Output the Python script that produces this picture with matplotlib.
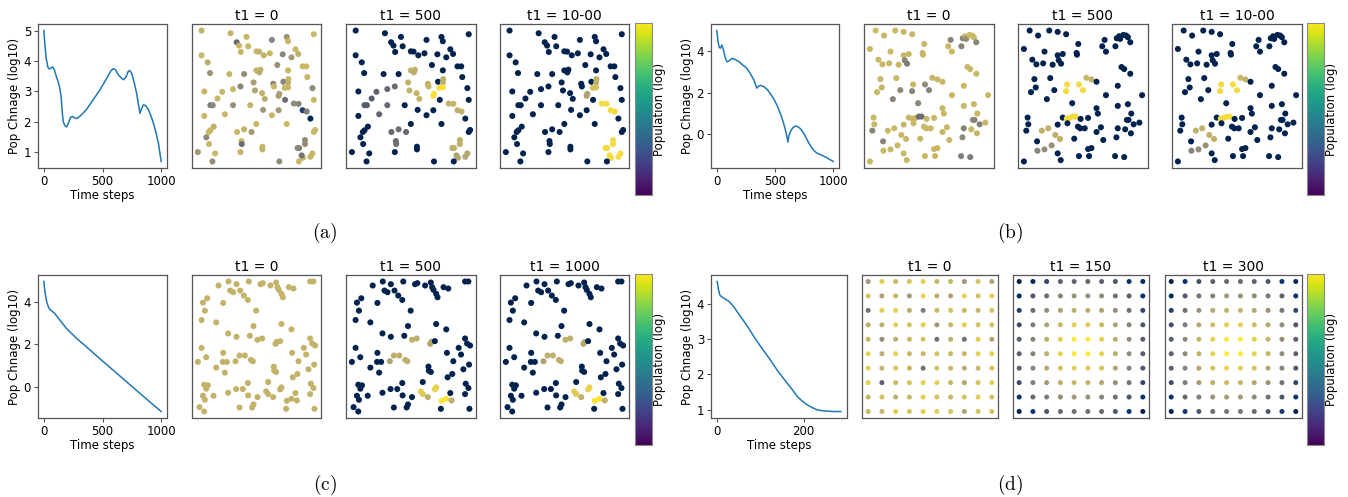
import matplotlib
matplotlib.use("Agg")
import matplotlib.pyplot as plt
from matplotlib.colors import Normalize
from matplotlib.cm import ScalarMappable

plt.rcParams['mathtext.fontset'] = 'cm'

# ---------------- line data (population change, log10) ----------------
a_t = [0, 8, 20, 35, 45, 60, 75, 90, 106, 120, 134, 148, 157, 165, 172, 182, 195, 210, 225, 240, 260, 283,
       320, 363, 420, 477, 530, 570, 591, 610, 634, 660, 680, 700, 718, 732, 750, 770, 791, 805, 820, 835,
       850, 870, 891, 912, 934, 955, 977, 1000]
a_v = [5.03, 4.6, 4.1, 3.8, 3.75, 3.78, 3.82, 3.72, 3.5, 3.35, 3.15, 2.8, 2.3, 2.0, 1.93, 1.85, 1.82, 1.95,
       2.12, 2.17, 2.13, 2.1, 2.22, 2.4, 2.72, 3.05, 3.4, 3.68, 3.76, 3.73, 3.56, 3.45, 3.39, 3.48, 3.66, 3.7,
       3.6, 3.3, 2.94, 2.6, 2.27, 2.45, 2.56, 2.52, 2.4, 2.2, 1.95, 1.65, 1.28, 0.67]

b_t = [0, 10, 20, 30, 43, 57, 70, 86, 100, 115, 134, 160, 191, 220, 249, 270, 291, 320, 343, 360, 377, 406,
       435, 463, 490, 520, 550, 577, 595, 611, 620, 634, 655, 677, 700, 720, 750, 777, 805, 834, 860, 891,
       920, 949, 975, 1000]
b_v = [5.0, 4.5, 4.2, 4.15, 4.3, 4.07, 3.75, 3.5, 3.52, 3.6, 3.66, 3.6, 3.5, 3.35, 3.23, 3.08, 2.9, 2.6,
       2.23, 2.33, 2.36, 2.29, 2.15, 1.94, 1.7, 1.37, 0.95, 0.48, 0.1, -0.37, -0.05, 0.15, 0.33, 0.41, 0.36,
       0.27, 0.03, -0.27, -0.55, -0.77, -0.9, -0.97, -1.05, -1.13, -1.22, -1.3]

c_t = [0, 5, 11, 25, 43, 60, 91, 134, 191, 240, 277, 350, 500, 650, 800, 1000]
c_v = [4.98, 4.7, 4.43, 4.0, 3.72, 3.62, 3.48, 3.17, 2.77, 2.5, 2.3, 1.95, 1.22, 0.5, -0.22, -1.17]

d_t = [0, 3, 6, 10, 15, 27, 38, 54, 70, 85, 100, 123, 140, 162, 175, 185, 197, 208, 220, 231, 243, 254, 270, 286]
d_v = [4.63, 4.4, 4.25, 4.2, 4.16, 4.07, 3.92, 3.64, 3.36, 3.07, 2.8, 2.41, 2.1, 1.75, 1.55, 1.38, 1.24,
       1.14, 1.06, 1.0, 0.97, 0.96, 0.95, 0.95]

# ---------------- scatter layouts (read positions, y measured downward) ----------------
a_x = [36, 122, 169, 288, 368, 244, 292, 140, 147, 174, 152, 198, 206, 220, 238, 276, 314, 322, 302, 36,
       54, 260, 335, 346, 61, 118, 162, 292, 198, 210, 207, 349, 190, 248, 250, 278, 293, 292, 194, 215,
       223, 282, 292, 266, 264, 44, 97, 129, 151, 83, 62, 69, 129, 105, 44, 180, 283, 309, 323, 335,
       347, 358, 364, 368, 218, 244, 264, 198, 288, 72, 62, 57, 50, 141, 162, 184, 154, 155, 58, 25,
       76, 68, 151, 216, 216, 266, 372, 368, 342, 342, 320, 325, 364, 358, 336, 332, 324]
a_y = [33, 41, 52, 52, 44, 61, 65, 68, 78, 80, 97, 95, 96, 107, 101, 104, 89, 103, 113, 107,
       128, 136, 140, 140, 160, 163, 163, 152, 152, 150, 158, 172, 188, 192, 200, 186, 178, 188, 212, 220,
       237, 204, 203, 222, 228, 215, 216, 208, 200, 236, 256, 256, 256, 283, 288, 256, 240, 251, 252, 271,
       275, 296, 205, 240, 270, 286, 271, 312, 312, 320, 331, 336, 352, 336, 328, 336, 363, 372, 372, 396,
       400, 424, 396, 380, 388, 424, 330, 336, 360, 372, 384, 384, 400, 410, 413, 406, 424]
a_c0 = [.78, .78, .8, .62, .8, .55, .8, .4, .8, .8, .8, .8, .78, .78, .8, .55, .8, .78, .65, .8,
        .75, .62, .8, .8, .62, .8, .58, .8, .78, .78, .75, .8, .68, .55, .8, .55, .8, .75, .7, .78,
        .75, .8, .8, .7, .68, .8, .8, .8, .55, .8, .5, .55, .62, .8, .8, .78, .42, .58, .55, .15,
        .5, .02, .58, .8, .65, .8, .65, .8, .8, .75, .8, .8, .58, .8, .78, .65, .8, .42, .8, .65,
        .8, .6, .78, .8, .78, .6, .8, .8, .58, .6, .58, .55, .8, .78, .78, .45, .8]
a_c500 = [0, 0, 0, 0, 0, 0, 0, 0, 0, 0, 0, 0, 0, 0, 0, 0, 0, 0, 0, 0,
          0, 0, 0, 0, 0, 0, 0, 0, .78, .78, .75, 0, .76, .78, .8, 0, .75, .75, .78, .78,
          .78, .97, .97, .97, .97, 0, .38, .4, .42, .35, .33, .33, .4, .38, 0, 0, 0, .78, .78, .76,
          .76, 0, 0, 0, 0, 0, 0, 0, 0, 0, 0, 0, 0, .4, .42, .4, .42, .42, 0, 0,
          0, 0, 0, 0, 0, 0, 0, 0, .76, .76, .76, .76, .72, .72, .72, .7, 0]
a_c1000 = [0, 0, 0, 0, 0, 0, 0, 0, 0, 0, 0, 0, 0, 0, 0, 0, 0, 0, 0, 0,
           0, 0, 0, 0, 0, 0, 0, 0, 0, 0, 0, 0, 0, 0, 0, 0, .76, .76, 0, 0,
           0, .85, .85, .7, .7, 0, 0, 0, 0, 0, 0, 0, 0, 0, 0, 0, 0, .95, .95, .95,
           .95, 0, 0, 0, 0, 0, 0, 0, 0, 0, 0, 0, 0, 0, 0, 0, 0, 0, 0, 0,
           0, 0, 0, 0, 0, 0, 0, 0, .95, .95, .95, .95, .95, .95, .95, .95, 0]

b_x = [42, 67, 100, 125, 150, 25, 86, 50, 62, 82, 110, 125, 140, 128, 135, 181, 182, 186, 264, 257,
       268, 296, 300, 307, 310, 320, 328, 333, 340, 314, 322, 340, 56, 60, 46, 103, 115, 93, 153, 150,
       188, 200, 210, 225, 240, 168, 268, 303, 375, 303, 333, 343, 330, 335, 350, 367, 240, 244, 36, 38,
       32, 140, 152, 160, 170, 178, 154, 193, 215, 125, 185, 192, 205, 253, 240, 303, 325, 342, 78, 97,
       118, 132, 64, 174, 260, 299, 65, 86, 107, 125, 134, 215, 225, 188, 218, 295, 322, 25]
b_y = [33, 48, 33, 37, 44, 88, 96, 120, 134, 131, 135, 107, 103, 122, 132, 100, 105, 73, 61, 80,
       96, 80, 56, 50, 58, 46, 48, 53, 68, 142, 148, 162, 178, 203, 217, 175, 211, 238, 194, 214,
       194, 211, 174, 179, 186, 250, 226, 198, 226, 258, 253, 281, 300, 300, 313, 308, 265, 281, 293, 313,
       332, 293, 296, 294, 290, 290, 310, 297, 294, 314, 320, 325, 325, 322, 336, 325, 328, 340, 332, 325,
       345, 357, 364, 356, 360, 352, 392, 388, 376, 400, 420, 387, 384, 408, 408, 408, 411, 424]
b_c0 = [.82, .8, .82, .8, .8, .8, .8, .8, .8, .8, .8, .8, .8, .55, .5, .8, .8, .8, .55, .8,
        .8, .55, .55, .8, .6, .82, .82, .8, .55, .8, .8, .8, .8, .78, .8, .8, .58, .55, .8, .55,
        .58, .55, .8, .8, .8, .55, .8, .8, .8, .8, .8, .8, .58, .55, .52, .8, .8, .8, .8, .8,
        .55, .8, .8, .8, .42, .42, .8, .8, .8, .8, .8, .8, .8, .8, .8, .55, .8, .8, .8, .8,
        .8, .8, .55, .8, .8, .58, .8, .8, .8, .8, .8, .8, .8, .8, .8, .5, .5, .8]
b_c500 = [0, 0, 0, 0, 0, 0, 0, 0, 0, 0, 0, 0, 0, 0, 0, 0, 0, 0, 0, 0,
          0, 0, 0, 0, 0, 0, 0, 0, 0, 0, 0, 0, 0, 0, 0, 0, 0, 0, .95, .95,
          .95, .95, .8, .78, 0, 0, 0, 0, 0, 0, 0, 0, 0, 0, 0, 0, 0, 0, 0, 0,
          0, 0, .95, .95, .95, .95, 0, 0, 0, 0, 0, 0, 0, 0, 0, 0, 0, 0, .76, .76,
          .76, .76, 0, 0, 0, 0, .55, .6, .62, 0, 0, 0, 0, 0, 0, 0, 0, 0]
b_c1000 = b_c500

c_x = [87, 117, 122, 131, 141, 152, 163, 175, 178, 213, 220, 243, 260, 264, 268, 276, 280, 298, 312, 362,
       372, 40, 53, 46, 36, 101, 80, 200, 116, 141, 181, 192, 276, 306, 204, 218, 258, 262, 272, 362,
       368, 377, 36, 50, 25, 101, 100, 112, 106, 80, 138, 150, 166, 184, 190, 308, 343, 350, 327, 357,
       374, 253, 254, 260, 324, 310, 364, 372, 236, 44, 55, 50, 40, 46, 72, 116, 140, 160, 175, 176,
       204, 230, 236, 251, 272, 276, 292, 306, 322, 318, 30, 44, 150, 188, 192, 290, 375, 362]
c_y = [42, 30, 57, 62, 38, 57, 72, 85, 30, 38, 35, 42, 33, 47, 55, 67, 77, 47, 51, 30,
       30, 93, 80, 117, 145, 94, 152, 117, 185, 195, 192, 163, 157, 173, 204, 200, 216, 210, 208, 200,
       215, 221, 228, 256, 270, 243, 270, 270, 302, 287, 268, 251, 251, 264, 268, 243, 228, 248, 268, 292,
       278, 284, 296, 300, 306, 316, 335, 348, 330, 338, 340, 350, 371, 383, 371, 362, 351, 351, 333, 370,
       375, 358, 366, 375, 352, 346, 386, 380, 385, 363, 405, 418, 406, 406, 397, 410, 410, 366]
c_c0 = [.78] * len(c_x)
c_c500 = [0, 0, 0, 0, 0, 0, 0, 0, 0, 0, 0, 0, 0, 0, 0, 0, 0, 0, 0, 0,
          0, 0, 0, 0, 0, 0, 0, 0, 0, 0, 0, 0, 0, 0, .76, .76, .72, .72, 0, 0,
          0, 0, 0, 0, 0, 0, 0, 0, 0, 0, .7, .76, .76, .76, .76, 0, 0, 0, 0, 0,
          0, 0, 0, 0, 0, 0, 0, 0, 0, 0, 0, 0, 0, 0, 0, 0, 0, 0, 0, 0,
          0, .9, .88, .76, .92, .92, .98, .98, .76, 0, 0, 0, 0, 0, 0, 0, 0, 0]
c_c1000 = c_c500

# ---------------- (d) regular 10x10 lattice ----------------
grid_idx = list(range(10))
d_c0 = [
    [.65, .9, .8, .85, .9, .8, .8, .65, .85, .7],
    [.85, .7, .8, .65, .9, .75, .7, .9, .85, .9],
    [.45, .9, .9, .75, .5, .8, .85, .8, .8, .85],
    [.75, .75, .9, .85, .9, .65, .8, .9, .85, .85],
    [.8, .6, .75, .8, .85, .45, .75, .45, .9, .7],
    [.9, .75, .9, .8, .8, .85, .8, .8, .9, .9],
    [.9, .8, .85, .8, .45, .85, .8, .75, .8, .85],
    [.9, .35, .8, .85, .9, .9, .8, .7, .85, .9],
    [.8, .85, .75, .8, .9, .85, .8, .85, .9, .85],
    [.8, .8, .9, .85, .9, .9, .85, .7, .85, .85]]
d_c150 = [
    [.0, .05, .2, .35, .38, .4, .35, .3, .1, .05],
    [.05, .3, .42, .55, .62, .6, .58, .45, .35, .08],
    [.15, .42, .6, .7, .75, .75, .7, .6, .45, .2],
    [.25, .5, .7, .8, .9, .88, .8, .7, .55, .3],
    [.35, .55, .75, .9, 1.0, 1.0, .9, .75, .6, .35],
    [.35, .55, .75, .9, 1.0, 1.0, .9, .75, .6, .35],
    [.35, .55, .72, .85, .9, .88, .85, .7, .55, .3],
    [.25, .5, .65, .75, .8, .78, .72, .6, .45, .2],
    [.1, .4, .5, .6, .65, .62, .55, .45, .3, .1],
    [.0, .1, .3, .4, .45, .45, .4, .3, .1, .0]]
d_c300 = [
    [.0, .1, .25, .35, .4, .4, .35, .3, .1, .05],
    [.05, .3, .45, .55, .65, .62, .58, .48, .35, .08],
    [.15, .45, .62, .72, .78, .78, .72, .62, .48, .2],
    [.25, .52, .72, .82, .9, .9, .82, .72, .58, .3],
    [.35, .58, .78, .9, 1.0, 1.0, .9, .78, .6, .35],
    [.35, .58, .78, .9, 1.0, 1.0, .9, .78, .6, .35],
    [.35, .55, .72, .85, .92, .9, .85, .72, .55, .3],
    [.25, .5, .65, .75, .82, .8, .72, .62, .45, .2],
    [.1, .4, .52, .62, .68, .65, .58, .45, .3, .1],
    [.0, .12, .3, .42, .48, .48, .42, .3, .12, .0]]

# ---------------- titles ----------------
titles_ab = ["t1 = 0", "t1 = 500", "t1 = 10-00"]
titles_c = ["t1 = 0", "t1 = 500", "t1 = 1000"]
titles_d = ["t1 = 0", "t1 = 150", "t1 = 300"]
panel_labels = ["(a)", "(b)", "(c)", "(d)"]

# ---------------- figure ----------------
W, H = 1348, 497
fig = plt.figure(figsize=(W / 100, H / 100), dpi=100)

def box(l, r, t, b):
    return [l / W, 1 - b / H, (r - l) / W, (b - t) / H]

SPINE = '#555555'
TICK_FS = 8.5

def style_spines(ax):
    for s in ax.spines.values():
        s.set_edgecolor(SPINE)
        s.set_linewidth(0.9)

def line_panel(rect, t, v, yticks, xticks):
    ax = fig.add_axes(rect)
    ax.plot(t, v, color='#1f77b4', lw=1.1)
    ax.set_yticks(yticks)
    ax.set_xticks(xticks)
    ax.tick_params(labelsize=TICK_FS, length=3, width=0.8, color=SPINE, pad=2)
    ax.set_xlabel("Time steps", fontsize=8.5, labelpad=1)
    ax.set_ylabel("Pop Chnage (log10)", fontsize=8.5, labelpad=2)
    style_spines(ax)
    return ax

def scatter_panel(rect, x, y, c, title, s=19):
    ax = fig.add_axes(rect)
    ax.scatter(x, y, c=c, cmap='cividis', vmin=0, vmax=1, s=s, linewidths=0)
    ax.invert_yaxis()
    ax.set_xticks([])
    ax.set_yticks([])
    ax.set_title(title, fontsize=10, pad=3)
    style_spines(ax)
    return ax

def cbar(rect):
    cax = fig.add_axes(rect)
    sm = ScalarMappable(norm=Normalize(0, 1), cmap='viridis')
    cb = fig.colorbar(sm, cax=cax)
    cb.set_ticks([])
    cb.outline.set_edgecolor('#888888')
    cb.set_label("Population (log)", fontsize=8.5, labelpad=1)
    return cb

# row 1 (a)
line_panel(box(38, 167, 24, 168), a_t, a_v, [1, 2, 3, 4, 5], [0, 500, 1000])
for (l, r), col, ti in zip([(192, 321), (346, 476), (500, 629)], [a_c0, a_c500, a_c1000], titles_ab):
    scatter_panel(box(l, r, 24, 168), a_x, a_y, col, ti)
cbar(box(635, 652, 23, 195))

# row 1 (b)
line_panel(box(711, 839, 24, 168), b_t, b_v, [0, 2, 4], [0, 500, 1000])
for (l, r), col, ti in zip([(864, 994), (1018, 1148), (1172, 1302)], [b_c0, b_c500, b_c1000], titles_ab):
    scatter_panel(box(l, r, 24, 168), b_x, b_y, col, ti)
cbar(box(1307, 1324, 23, 195))

# row 2 (c)
line_panel(box(38, 167, 275, 418), c_t, c_v, [0, 2, 4], [0, 500, 1000])
for (l, r), col, ti in zip([(192, 321), (346, 476), (500, 629)], [c_c0, c_c500, c_c1000], titles_c):
    scatter_panel(box(l, r, 275, 418), c_x, c_y, col, ti)
cbar(box(635, 652, 274, 445))

# row 2 (d)
line_panel(box(711, 847, 275, 418), d_t, d_v, [1, 2, 3, 4], [0, 200])
gx = [i for r in grid_idx for i in grid_idx]
gy = [r for r in grid_idx for i in grid_idx]
for (l, r), grid, ti in zip([(862, 998), (1013, 1149), (1165, 1302)], [d_c0, d_c150, d_c300], titles_d):
    cols = [grid[rr][cc] for rr in grid_idx for cc in grid_idx]
    scatter_panel(box(l, r, 275, 418), gx, gy, cols, ti, s=13)
cbar(box(1307, 1324, 274, 445))

# sub-figure labels
for lab, (px, py) in zip(panel_labels, [(325, 233), (1010, 233), (325, 485), (1010, 485)]):
    fig.text(px / W, 1 - py / H, r'$\mathrm{' + lab + '}$', fontsize=14, ha='center', va='center')

fig.savefig("out.png", dpi=100)
